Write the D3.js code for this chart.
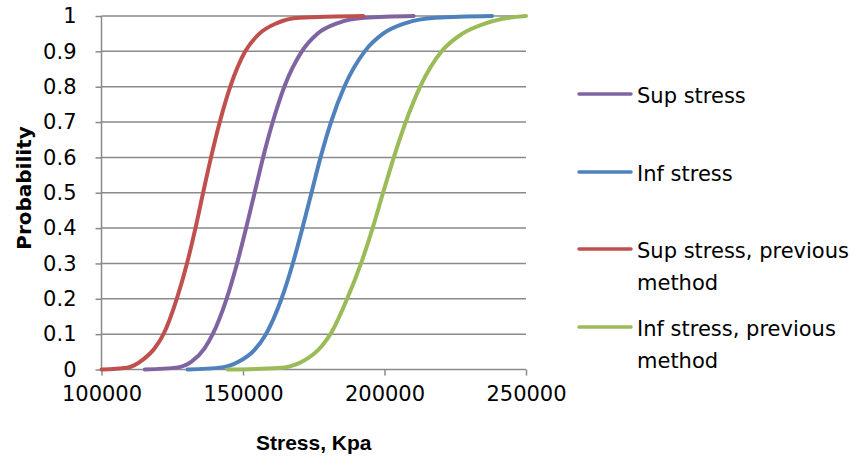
<!DOCTYPE html>
<html>
<head>
<meta charset="utf-8">
<script src="https://cdn.jsdelivr.net/npm/d3@7"></script>
<style>
  body { margin: 0; background: #fff; }
</style>
</head>
<body>
<div id="chart"></div>
<script>
// [stress (Kpa), probability]
const supStress = [[115300,0],[127000,0.006],[131800,0.022],[136400,0.06],[139300,0.1],[144200,0.2],[147900,0.3],[151100,0.4],[154100,0.5],[157100,0.6],[160500,0.7],[164600,0.8],[170800,0.9],[176300,0.95],[183500,0.98],[193000,0.995],[210300,1]];
const infStress = [[130400,0],[142500,0.006],[148400,0.022],[154000,0.055],[158100,0.1],[163600,0.2],[167600,0.3],[171000,0.4],[174200,0.5],[177400,0.6],[181100,0.7],[185800,0.8],[193000,0.9],[199500,0.95],[207500,0.98],[218000,0.995],[238000,1]];
const supStressPrev = [[100000,0],[109000,0.005],[115000,0.03],[118800,0.06],[121900,0.1],[126600,0.2],[130200,0.3],[133200,0.4],[135900,0.5],[138700,0.6],[141800,0.7],[145500,0.8],[150800,0.9],[155800,0.95],[162000,0.98],[170000,0.995],[192500,1]];
const infStressPrev = [[144600,0],[162500,0.004],[170800,0.022],[177800,0.066],[180900,0.1],[186800,0.2],[191700,0.3],[195800,0.4],[199500,0.5],[203300,0.6],[207500,0.7],[212600,0.8],[220200,0.9],[227500,0.95],[236000,0.98],[244000,0.995],[250000,1]];

const seriesNames = ["Sup stress", "Inf stress", "Sup stress, previous method", "Inf stress, previous method"];
const seriesColors = ["#8064A2", "#4F81BD", "#C0504D", "#9BBB59"];
const seriesData = [supStress, infStress, supStressPrev, infStressPrev];

const xTicks = [100000, 150000, 200000, 250000];
const yTicks = d3.range(0, 11).map(d => d / 10);

const width = 853, height = 460;
const margin = {top: 16, right: 327, bottom: 90.5, left: 101.5};

const svg = d3.select("#chart").append("svg")
    .attr("width", width)
    .attr("height", height);

const x = d3.scaleLinear()
    .domain([100000, 250000])
    .range([margin.left, width - margin.right]);

const y = d3.scaleLinear()
    .domain([0, 1])
    .range([height - margin.bottom, margin.top]);

const gridColor = "#8a8a8a";

// horizontal grid
svg.append("g")
  .selectAll("line")
  .data(yTicks.filter(d => d > 0))
  .join("line")
    .attr("x1", x(100000))
    .attr("x2", x(250000))
    .attr("y1", d => y(d))
    .attr("y2", d => y(d))
    .attr("stroke", gridColor)
    .attr("stroke-width", 1.5);

// y axis
const yAxis = svg.append("g")
    .attr("transform", `translate(${margin.left},0)`)
    .call(d3.axisLeft(y).tickValues(yTicks).tickSize(6).tickPadding(19)
      .tickFormat(d => d === 0 ? "0" : d === 1 ? "1" : d3.format(".1f")(d)));
yAxis.selectAll("line, path").attr("stroke", gridColor).attr("stroke-width", 1.5);
yAxis.select(".domain").attr("d", `M0,${y(0)}V${y(1)}`);
yAxis.selectAll("text")
    .attr("fill", "#000")
    .style("font", "21px 'DejaVu Sans'");

// x axis
const xAxis = svg.append("g")
    .attr("transform", `translate(0,${y(0)})`)
    .call(d3.axisBottom(x).tickValues(xTicks).tickSize(6).tickPadding(11).tickFormat(d3.format("d")));
xAxis.selectAll("line, path").attr("stroke", gridColor).attr("stroke-width", 1.5);
xAxis.select(".domain").attr("d", `M${x(100000)},0H${x(250000)}`);
xAxis.selectAll("text")
    .attr("fill", "#000")
    .style("font", "21px 'DejaVu Sans'");

// axis titles
svg.append("text")
    .attr("x", (x(100000) + x(250000)) / 2)
    .attr("y", 450)
    .attr("text-anchor", "middle")
    .style("font", "bold 21px 'Liberation Sans'")
    .text("Stress, Kpa");

svg.append("text")
    .attr("transform", `translate(31,${188}) rotate(-90)`)
    .attr("text-anchor", "middle")
    .style("font", "bold 20px 'DejaVu Sans'")
    .text("Probability");

// curves
const line = d3.line()
    .x(d => x(d[0]))
    .y(d => y(d[1]))
    .curve(d3.curveMonotoneX);

svg.append("g")
  .selectAll("path")
  .data(seriesData)
  .join("path")
    .attr("d", line)
    .attr("fill", "none")
    .attr("stroke", (d, i) => seriesColors[i])
    .attr("stroke-width", 4)
    .attr("stroke-linejoin", "round")
    .attr("stroke-linecap", "round");

// legend
const legendY = [94, 172, 249, 327];
const legendLines = [["Sup stress"], ["Inf stress"], ["Sup stress, previous", "method"], ["Inf stress, previous", "method"]];

const legend = svg.append("g");
const items = legend.selectAll("g")
  .data(seriesNames)
  .join("g")
    .attr("transform", (d, i) => `translate(0,${legendY[i]})`);

items.append("line")
    .attr("x1", 579)
    .attr("x2", 631)
    .attr("stroke", (d, i) => seriesColors[i])
    .attr("stroke-width", 3.5)
    .attr("stroke-linecap", "round");

items.append("text")
    .attr("x", 637)
    .attr("y", 9)
    .style("font", "21px 'DejaVu Sans'")
    .selectAll("tspan")
    .data((d, i) => legendLines[i])
    .join("tspan")
      .attr("x", 637)
      .attr("dy", (d, j) => j === 0 ? 0 : 32)
      .text(d => d);
</script>
</body>
</html>
